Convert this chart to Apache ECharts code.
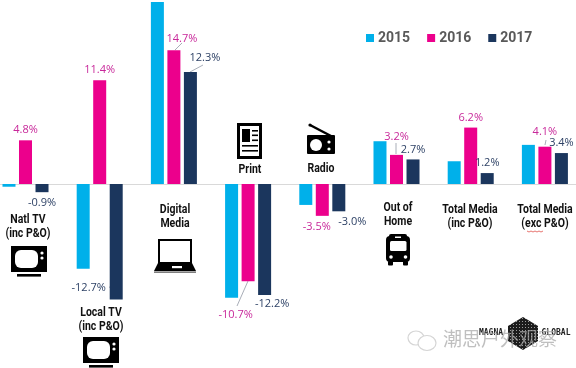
<!DOCTYPE html>
<html><head><meta charset="utf-8">
<style>html,body{margin:0;padding:0;background:#fff}#c{width:576px;height:368px}</style>
<script src="https://cdn.jsdelivr.net/npm/echarts@6/dist/echarts.min.js"></script>
</head><body><div id="c"></div>
<script>
const categories = ['Natl TV','Local TV','Digital Media','Print','Radio','Out of Home','Total Media (inc P&O)','Total Media (exc P&O)'];
const years = ['2015','2016','2017'];
const values2015 = [-0.3,-9.3,20.0,-12.5,-2.3,4.7,2.5,4.3];
const values2016 = [4.8,11.4,14.7,-10.7,-3.5,3.2,6.2,4.1];
const values2017 = [-0.9,-12.7,12.3,-12.2,-3.0,2.7,1.2,3.4];
const labelled2016 = [true,true,true,true,true,true,true,true];
const labelled2017 = [true,true,true,true,true,true,true,true];

const labelOffsets2016 = [[0,-5],[0,-5],[8,-6],[-12.5,28],[-5.5,6],[0,-13],[0,-4],[0,-9]];
const labelOffsets2017 = [[0,5],[-27.5,-17],[14.5,-9],[7.5,3],[13.5,5],[0,-4.5],[0,-4.5],[0,-4.5]];
const colors = ['#00b0ea','#ec008c','#1b365d'];
const labelColors = [null,'#c8289a','#2e4266'];
const FONT = '"Open Sans","Liberation Sans",sans-serif';
const NARROW = 'Roboto,"Liberation Sans",sans-serif';

function seriesFor(i, vals, shown, offsets){
  return {
    name: years[i], type:'bar', barWidth:13, barGap:'27%', silent:true,
    itemStyle:{color:colors[i]},
    data: vals.map((v,k)=>{
      if(!shown || !shown[k]) return {value:v};
      return {value:v,label:{
        show:true, position:v<0?'bottom':'top', distance:0, offset:offsets[k],
        formatter:v.toFixed(1)+'%', color:labelColors[i], fontFamily:FONT, fontSize:11
      }};
    })
  };
}

const blk='#000';
const R=(x,y,w,h,fill,r)=>({type:'rect',shape:{x,y,width:w,height:h,r:r||0},style:{fill:fill||blk},silent:true});
const C=(cx,cy,r,fill)=>({type:'circle',shape:{cx,cy,r},style:{fill:fill||blk},silent:true});
const L=(pts,c,w)=>({type:'polyline',shape:{points:pts},style:{stroke:c||'#a9aeb8',lineWidth:w||1,fill:null},silent:true});
const T=(x,y,t,o)=>({type:'text',x,y,silent:true,style:Object.assign({text:t,align:'center',verticalAlign:'middle',font:'bold 12.5px '+NARROW,fill:'#111'},o||{})});
const N=(x,y,t)=>Object.assign(T(x,y,t),{scaleX:0.84});
const P=(pts,fill)=>({type:'polygon',shape:{points:pts},style:{fill:fill||blk},silent:true});

function tv(dx,dy){return [
  R(11+dx,246+dy,36,26), R(15+dx,250+dy,23,18,'#fff',6),
  C(42+dx,253+dy,1.6,'#fff'), C(42+dx,258+dy,1.6,'#fff'), R(17+dx,274+dy,24,2.6)
];}
const print=[R(237,123,25,36),R(240,126,19,30,'#fff'),R(242,129,8,13),
  R(252,130,6,1.6),R(252,134.5,6,1.6),R(252,139.5,6,1.6),R(242,145,16,1.6),R(242,150,16,1.6)];
const radio=[L([[310,125],[331,136]],blk,2.5),C(310,125,1.6),R(307,135,28,19,blk,1),
  C(316,145,6,'#fff'),C(329,142,1.6,'#fff'),C(329,149,1.6,'#fff')];
const laptop=[R(158,239,34,24.5),R(160,241,30,21,'#fff'),
  P([[158,263],[192,263],[196,271],[154,271]]),R(172,266,10,2.2,'#fff'),R(154,271.5,42,1.2,'#555')];
const bus=[R(386,236,24,26,blk,4),R(389,234,18,4,blk,2),R(390,241,16.5,10,'#fff',1.5),R(395,236.5,6,1.5,'#fff'),
  C(391,257,1.8,'#fff'),C(405.5,257,1.8,'#fff'),R(388,261,5,4.5,blk,1),R(403,261,5,4.5,blk,1)];

const leaders=[
  L([[175,50],[182,43]]),L([[190,72],[203,65]]),
  L([[396,143],[396,154]]),L([[109,287],[113,288],[117,298]]),
  L([[248,281],[237,306]]),L([[546,140],[545,145]])
];
const texts=[
  N(28,220,'Natl TV'),N(28,234,'(inc P&O)'),
  N(101,313,'Local TV'),N(101,327,'(inc P&O)'),
  N(175,210,'Digital'),N(175,224,'Media'),
  N(250,170,'Print'),N(321,169,'Radio'),
  N(398,208,'Out of'),N(398,222,'Home'),
  N(470,210,'Total Media'),N(470,224,'(inc P&O)'),
  N(545,210,'Total Media'),N(545,224,'(exc P&O)')
];
const wavy=L([[527,231],[529,232],[531,231],[533,232],[535,231],[537,232],[539,231],[541,232],[543,231]],'#e0504a',0.8);

const pat=document.createElement('canvas');pat.width=3;pat.height=3;
const g=pat.getContext('2d');g.fillStyle='#1c1c1c';g.fillRect(0,0,3,3);g.fillStyle='#9a9a9a';g.fillRect(0,0,1,1);
const cube={type:'polygon',silent:true,shape:{points:[[523,317],[538,326],[538,341],[523,350],[508,341],[508,326]]},style:{fill:{image:pat,repeat:'repeat'}}};
const logoTexts=[
  T(491,333,'MAGNA',{font:'bold 8px "DejaVu Sans Mono",monospace',fill:'#222'}),
  T(556,333,'GLOBAL',{font:'bold 8px "DejaVu Sans Mono",monospace',fill:'#222'})
];
const wechat=[
  {type:'ellipse',silent:true,shape:{cx:416,cy:338,rx:8,ry:7},style:{stroke:'#d5d5d5',fill:'#fff',lineWidth:1.2}},
  {type:'ellipse',silent:true,shape:{cx:427,cy:343,rx:9,ry:7.5},style:{stroke:'#d5d5d5',fill:'#fff',lineWidth:1.2}}
];
const watermark=T(500,339,'潮思户外观察',{font:'19px "Noto Sans CJK SC",sans-serif',fill:'rgba(170,170,170,0.75)'});

const chart=echarts.init(document.getElementById('c'),null,{renderer:'canvas'});
chart.setOption({
  animation:false, backgroundColor:'#fff',
  legend:{data:years,left:361,top:26,icon:'rect',itemWidth:8,itemHeight:8,itemGap:17,
    textStyle:{fontFamily:'Roboto,sans-serif',fontWeight:'bold',fontSize:14,color:'#595959',padding:[0,0,0,-1]}},
  grid:{left:-11.6,width:593.6,top:2,height:364,containLabel:false,outerBoundsMode:'none'},
  xAxis:{type:'category',data:categories,axisLine:{onZero:true,lineStyle:{color:'#d9d9d9',width:1}},axisTick:{show:false},axisLabel:{show:false},splitLine:{show:false}},
  yAxis:{type:'value',min:-20,max:20,show:false,splitLine:{show:false}},
  series:[
    seriesFor(0,values2015,null,null),
    seriesFor(1,values2016,labelled2016,labelOffsets2016),
    seriesFor(2,values2017,labelled2017,labelOffsets2017)
  ],
  graphic:{elements:[].concat(leaders,texts,[wavy],tv(0,0),tv(72,91),print,radio,laptop,bus,[cube],logoTexts,wechat,[watermark])}
});
</script></body></html>
